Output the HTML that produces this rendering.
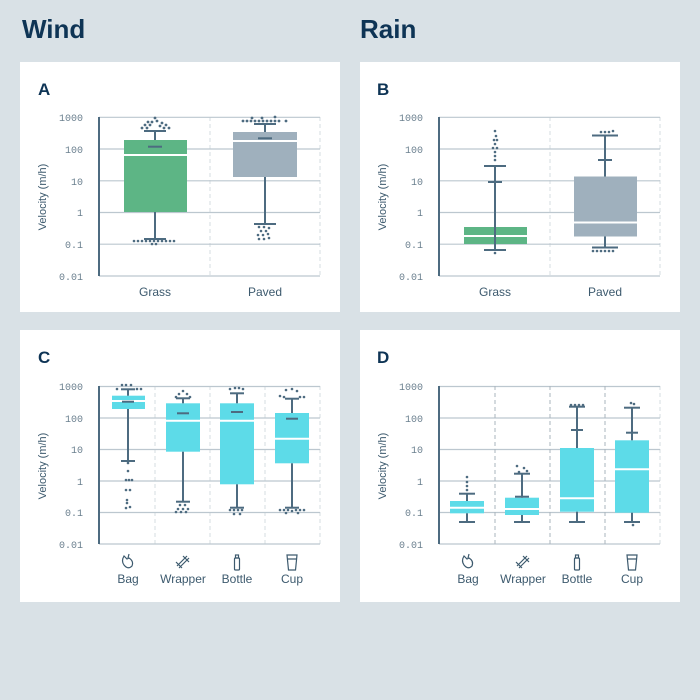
<!DOCTYPE html>
<html><head><meta charset="utf-8"><style>
html,body{margin:0;padding:0;background:#d9e1e6;}
svg{display:block;font-family:"Liberation Sans",sans-serif;}
.t{font-size:10px;fill:#6a7f8e;font-family:"Liberation Mono",monospace;text-anchor:end}
.xl{font-size:12px;fill:#3d5a6e;text-anchor:middle}
.yl{font-size:11px;fill:#3d5a6e;text-anchor:middle}
.g{stroke:#bcc7cf;stroke-width:1.2}
.d{stroke:#d5dce1;stroke-width:1;stroke-dasharray:4 3}
.dd{stroke:#aab5bd;stroke-width:1;stroke-dasharray:4 3}
.w{stroke:#4d6b80;stroke-width:2;fill:none}
.o{fill:#4d6b80}
.m{stroke:#fff;stroke-width:2}
.ic{stroke:#3d5a6e;stroke-width:1.2;fill:none}
</style></head><body>
<svg width="700" height="700" viewBox="0 0 700 700">
<rect width="700" height="700" fill="#d9e1e6"/>
<text x="22" y="38" font-size="26" font-weight="bold" fill="#0e3455">Wind</text>
<text x="360" y="38" font-size="26" font-weight="bold" fill="#0e3455">Rain</text>
<rect x="20" y="62" width="320" height="250" fill="#fff"/>
<rect x="360" y="62" width="320" height="250" fill="#fff"/>
<rect x="20" y="330" width="320" height="272" fill="#fff"/>
<rect x="360" y="330" width="320" height="272" fill="#fff"/>

<defs>
<g id="axes2">
<line class="d" x1="210" y1="117" x2="210" y2="276"/>
<line class="d" x1="320" y1="117" x2="320" y2="276"/>
<line class="g" x1="99" y1="117.3" x2="320" y2="117.3"/>
<line class="g" x1="99" y1="149" x2="320" y2="149"/>
<line class="g" x1="99" y1="180.8" x2="320" y2="180.8"/>
<line class="g" x1="99" y1="212.5" x2="320" y2="212.5"/>
<line class="g" x1="99" y1="244.2" x2="320" y2="244.2"/>
<line class="g" x1="99" y1="276" x2="320" y2="276"/>
<line class="w" x1="99" y1="117" x2="99" y2="276"/>
<text class="t" x="83" y="121">1000</text><text class="t" x="83" y="153">100</text>
<text class="t" x="83" y="185">10</text><text class="t" x="83" y="216">1</text>
<text class="t" x="83" y="248">0.1</text><text class="t" x="83" y="280">0.01</text>
<text class="yl" transform="translate(46,197) rotate(-90)">Velocity (m/h)</text>
<text class="xl" x="155" y="296">Grass</text><text class="xl" x="265" y="296">Paved</text>
</g>
<g id="axes4">
<line class="d" x1="155" y1="386" x2="155" y2="544"/>
<line class="d" x1="210" y1="386" x2="210" y2="544"/>
<line class="d" x1="265" y1="386" x2="265" y2="544"/>
<line class="d" x1="320" y1="386" x2="320" y2="544"/>
<line class="g" x1="99" y1="386.5" x2="320" y2="386.5"/>
<line class="g" x1="99" y1="418" x2="320" y2="418"/>
<line class="g" x1="99" y1="449.5" x2="320" y2="449.5"/>
<line class="g" x1="99" y1="481" x2="320" y2="481"/>
<line class="g" x1="99" y1="512.5" x2="320" y2="512.5"/>
<line class="g" x1="99" y1="544" x2="320" y2="544"/>
<line class="w" x1="99" y1="386" x2="99" y2="544"/>
<text class="t" x="83" y="390">1000</text><text class="t" x="83" y="422">100</text>
<text class="t" x="83" y="453">10</text><text class="t" x="83" y="485">1</text>
<text class="t" x="83" y="516">0.1</text><text class="t" x="83" y="548">0.01</text>
<text class="yl" transform="translate(46,466) rotate(-90)">Velocity (m/h)</text>
<text class="xl" x="128" y="583">Bag</text><text class="xl" x="183" y="583">Wrapper</text>
<text class="xl" x="237" y="583">Bottle</text><text class="xl" x="292" y="583">Cup</text>
<path class="ic" d="M124 556 q-3 5 0 9 q4 5 8 1 q2-5 -3-8 l-2 1 z M129 554 l-1 4"/>
<path class="ic" d="M177 566 l10-10 M179 568 l10-10 M176 562 l6 6 M183 556 l6 6"/>
<rect class="ic" x="234.5" y="558" width="5" height="12" rx="1"/><rect class="ic" x="235.5" y="555" width="3" height="3"/>
<path class="ic" d="M287 555 h10 l-1.5 15 h-7 z M287 559 h10"/>
</g>
</defs>

<text x="38" y="95" font-size="17" font-weight="bold" fill="#0e3455">A</text>
<text x="377" y="95" font-size="17" font-weight="bold" fill="#0e3455">B</text>
<text x="38" y="363" font-size="17" font-weight="bold" fill="#0e3455">C</text>
<text x="377" y="363" font-size="17" font-weight="bold" fill="#0e3455">D</text>

<use href="#axes2"/>
<use href="#axes2" x="340"/>
<use href="#axes4"/>
<use href="#axes4" x="340"/>
<line class="dd" x1="495" y1="386" x2="495" y2="544"/>
<line class="dd" x1="550" y1="386" x2="550" y2="544"/>
<line class="dd" x1="605" y1="386" x2="605" y2="544"/>

<!-- A -->
<rect x="124" y="140" width="63" height="72" fill="#5db585"/>
<line class="m" x1="124" y1="155" x2="187" y2="155"/>
<line class="w" x1="155" y1="131" x2="155" y2="140"/><line class="w" x1="155" y1="212" x2="155" y2="239"/>
<line class="w" x1="144" y1="131" x2="166" y2="131"/><line class="w" x1="144" y1="239" x2="166" y2="239"/>
<line class="w" x1="148" y1="146.7" x2="162" y2="146.7"/>
<g class="o"><circle cx="155" cy="118" r="1.4"/><circle cx="148" cy="122" r="1.4"/><circle cx="152" cy="122" r="1.4"/><circle cx="157" cy="121" r="1.4"/><circle cx="162" cy="123" r="1.4"/><circle cx="145" cy="125" r="1.4"/><circle cx="150" cy="125" r="1.4"/><circle cx="160" cy="126" r="1.4"/><circle cx="166" cy="125" r="1.4"/><circle cx="142" cy="128" r="1.4"/><circle cx="147" cy="128" r="1.4"/><circle cx="164" cy="128" r="1.4"/><circle cx="169" cy="128" r="1.4"/>
<circle cx="134" cy="241" r="1.3"/><circle cx="138" cy="241" r="1.3"/><circle cx="142" cy="241" r="1.3"/><circle cx="146" cy="241" r="1.3"/><circle cx="150" cy="241" r="1.3"/><circle cx="154" cy="241" r="1.3"/><circle cx="158" cy="241" r="1.3"/><circle cx="162" cy="241" r="1.3"/><circle cx="166" cy="241" r="1.3"/><circle cx="170" cy="241" r="1.3"/><circle cx="174" cy="241" r="1.3"/><circle cx="152" cy="244" r="1.3"/><circle cx="156" cy="244" r="1.3"/></g>

<rect x="233" y="132" width="64" height="45" fill="#9fb0bd"/>
<line class="m" x1="233" y1="141" x2="297" y2="141"/>
<line class="w" x1="265" y1="124" x2="265" y2="132"/><line class="w" x1="265" y1="177" x2="265" y2="224"/>
<line class="w" x1="254" y1="124" x2="276" y2="124"/><line class="w" x1="254" y1="224" x2="276" y2="224"/>
<line class="w" x1="258" y1="138.3" x2="272" y2="138.3"/>
<g class="o"><circle cx="252" cy="118" r="1.4"/><circle cx="262" cy="118" r="1.4"/><circle cx="275" cy="117" r="1.4"/><circle cx="243" cy="121" r="1.4"/><circle cx="247" cy="121" r="1.4"/><circle cx="251" cy="121" r="1.4"/><circle cx="255" cy="121" r="1.4"/><circle cx="259" cy="121" r="1.4"/><circle cx="263" cy="121" r="1.4"/><circle cx="267" cy="121" r="1.4"/><circle cx="271" cy="121" r="1.4"/><circle cx="275" cy="121" r="1.4"/><circle cx="279" cy="121" r="1.4"/><circle cx="286" cy="121" r="1.4"/>
<circle cx="259" cy="227" r="1.3"/><circle cx="264" cy="227" r="1.3"/><circle cx="269" cy="228" r="1.3"/><circle cx="261" cy="231" r="1.3"/><circle cx="266" cy="231" r="1.3"/><circle cx="258" cy="235" r="1.3"/><circle cx="263" cy="235" r="1.3"/><circle cx="268" cy="234" r="1.3"/><circle cx="259" cy="239" r="1.3"/><circle cx="264" cy="239" r="1.3"/><circle cx="269" cy="238" r="1.3"/></g>

<!-- B -->
<rect x="464" y="227" width="63" height="17" fill="#5db585"/>
<line class="m" x1="464" y1="236" x2="527" y2="236"/>
<line class="w" x1="495" y1="166" x2="495" y2="250"/>
<line class="w" x1="484" y1="166" x2="506" y2="166"/><line class="w" x1="484" y1="250" x2="506" y2="250"/>
<line class="w" x1="488" y1="182" x2="502" y2="182"/>
<g class="o"><circle cx="495" cy="131" r="1.3"/><circle cx="496" cy="136" r="1.3"/><circle cx="494" cy="140" r="1.3"/><circle cx="497" cy="140" r="1.3"/><circle cx="495" cy="144" r="1.3"/><circle cx="493" cy="148" r="1.3"/><circle cx="497" cy="148" r="1.3"/><circle cx="495" cy="152" r="1.3"/><circle cx="495" cy="156" r="1.3"/><circle cx="495" cy="160" r="1.3"/><circle cx="495" cy="253" r="1.3"/></g>
<rect x="574" y="176.5" width="63" height="60" fill="#9fb0bd"/>
<line class="m" x1="574" y1="222.5" x2="637" y2="222.5"/>
<line class="w" x1="605" y1="135.5" x2="605" y2="176.5"/><line class="w" x1="605" y1="236.5" x2="605" y2="247.5"/>
<line class="w" x1="592" y1="135.5" x2="618" y2="135.5"/><line class="w" x1="592" y1="247.5" x2="618" y2="247.5"/>
<line class="w" x1="598" y1="160" x2="612" y2="160"/>
<g class="o"><circle cx="601" cy="132" r="1.3"/><circle cx="605" cy="132" r="1.3"/><circle cx="609" cy="132" r="1.3"/><circle cx="613" cy="131" r="1.3"/><circle cx="593" cy="251" r="1.3"/><circle cx="597" cy="251" r="1.3"/><circle cx="601" cy="251" r="1.3"/><circle cx="605" cy="251" r="1.3"/><circle cx="609" cy="251" r="1.3"/><circle cx="613" cy="251" r="1.3"/></g>

<!-- C -->
<g fill="#5ddbe8">
<rect x="112" y="395.7" width="33" height="13.3"/>
<rect x="166" y="403.3" width="34" height="48.4"/>
<rect x="220" y="403.3" width="34" height="81"/>
<rect x="275" y="413" width="34" height="50.3"/></g>
<line class="m" x1="112" y1="401" x2="145" y2="401"/>
<line class="m" x1="166" y1="420.7" x2="200" y2="420.7"/>
<line class="m" x1="220" y1="420.7" x2="254" y2="420.7"/>
<line class="m" x1="275" y1="438.7" x2="309" y2="438.7"/>
<line class="w" x1="128" y1="389.3" x2="128" y2="395.7"/><line class="w" x1="128" y1="409" x2="128" y2="461"/>
<line class="w" x1="121" y1="389.3" x2="135" y2="389.3"/><line class="w" x1="121" y1="461" x2="135" y2="461"/><line class="w" x1="122" y1="401.7" x2="134" y2="401.7"/>
<line class="w" x1="183" y1="398.3" x2="183" y2="403.3"/><line class="w" x1="183" y1="451.7" x2="183" y2="501.7"/>
<line class="w" x1="176" y1="398.3" x2="190" y2="398.3"/><line class="w" x1="176" y1="501.7" x2="190" y2="501.7"/><line class="w" x1="177" y1="413.3" x2="189" y2="413.3"/>
<line class="w" x1="237" y1="393.3" x2="237" y2="403.3"/><line class="w" x1="237" y1="484.3" x2="237" y2="507.7"/>
<line class="w" x1="230" y1="393.3" x2="244" y2="393.3"/><line class="w" x1="230" y1="507.7" x2="244" y2="507.7"/><line class="w" x1="231" y1="412" x2="243" y2="412"/>
<line class="w" x1="292" y1="398.7" x2="292" y2="413"/><line class="w" x1="292" y1="463.3" x2="292" y2="507.7"/>
<line class="w" x1="285" y1="398.7" x2="299" y2="398.7"/><line class="w" x1="285" y1="507.7" x2="299" y2="507.7"/><line class="w" x1="286" y1="418.7" x2="298" y2="418.7"/>
<g class="o">
<circle cx="122" cy="385" r="1.3"/><circle cx="126" cy="385" r="1.3"/><circle cx="131" cy="385" r="1.3"/><circle cx="117" cy="389" r="1.3"/><circle cx="137" cy="389" r="1.3"/><circle cx="141" cy="389" r="1.3"/>
<circle cx="128" cy="463" r="1.3"/><circle cx="128" cy="471" r="1.3"/><circle cx="126" cy="480" r="1.3"/><circle cx="129" cy="480" r="1.3"/><circle cx="132" cy="480" r="1.3"/><circle cx="126" cy="490" r="1.3"/><circle cx="130" cy="490" r="1.3"/><circle cx="127" cy="500" r="1.3"/><circle cx="127" cy="503" r="1.3"/><circle cx="126" cy="508" r="1.3"/><circle cx="130" cy="507" r="1.3"/>
<circle cx="183" cy="391" r="1.3"/><circle cx="179" cy="394" r="1.3"/><circle cx="187" cy="394" r="1.3"/><circle cx="176" cy="397" r="1.3"/><circle cx="190" cy="397" r="1.3"/>
<circle cx="180" cy="505" r="1.3"/><circle cx="185" cy="505" r="1.3"/><circle cx="178" cy="509" r="1.3"/><circle cx="183" cy="509" r="1.3"/><circle cx="188" cy="509" r="1.3"/><circle cx="176" cy="512" r="1.3"/><circle cx="181" cy="512" r="1.3"/><circle cx="186" cy="512" r="1.3"/>
<circle cx="230" cy="389" r="1.3"/><circle cx="235" cy="388" r="1.3"/><circle cx="239" cy="388" r="1.3"/><circle cx="243" cy="389" r="1.3"/>
<circle cx="230" cy="510" r="1.3"/><circle cx="234" cy="510" r="1.3"/><circle cx="238" cy="510" r="1.3"/><circle cx="242" cy="510" r="1.3"/><circle cx="234" cy="514" r="1.3"/><circle cx="240" cy="514" r="1.3"/>
<circle cx="286" cy="390" r="1.3"/><circle cx="292" cy="389" r="1.3"/><circle cx="297" cy="391" r="1.3"/><circle cx="280" cy="396" r="1.3"/><circle cx="284" cy="397" r="1.3"/><circle cx="300" cy="397" r="1.3"/><circle cx="304" cy="397" r="1.3"/>
<circle cx="280" cy="510" r="1.3"/><circle cx="284" cy="510" r="1.3"/><circle cx="288" cy="510" r="1.3"/><circle cx="292" cy="511" r="1.3"/><circle cx="296" cy="510" r="1.3"/><circle cx="300" cy="510" r="1.3"/><circle cx="304" cy="510" r="1.3"/><circle cx="286" cy="513" r="1.3"/><circle cx="298" cy="513" r="1.3"/></g>

<!-- D -->
<g fill="#5ddbe8">
<rect x="450" y="501" width="34" height="12.3"/>
<rect x="505" y="497.7" width="34" height="17.3"/>
<rect x="560" y="448" width="34" height="63.7"/>
<rect x="615" y="440.3" width="34" height="72.4"/></g>
<line class="m" x1="450" y1="507.7" x2="484" y2="507.7"/>
<line class="m" x1="505" y1="509" x2="539" y2="509"/>
<line class="m" x1="560" y1="498.3" x2="594" y2="498.3"/>
<line class="m" x1="615" y1="469.3" x2="649" y2="469.3"/>
<line class="w" x1="467" y1="493.7" x2="467" y2="501"/><line class="w" x1="467" y1="513.3" x2="467" y2="522"/>
<line class="w" x1="459" y1="493.7" x2="475" y2="493.7"/><line class="w" x1="459" y1="522" x2="475" y2="522"/>
<line class="w" x1="522" y1="473.7" x2="522" y2="497.7"/><line class="w" x1="522" y1="515" x2="522" y2="522"/>
<line class="w" x1="514" y1="473.7" x2="530" y2="473.7"/><line class="w" x1="514" y1="522" x2="530" y2="522"/><line class="w" x1="515" y1="496.7" x2="529" y2="496.7"/>
<line class="w" x1="577" y1="406.7" x2="577" y2="448"/><line class="w" x1="577" y1="511.7" x2="577" y2="522"/>
<line class="w" x1="569" y1="406.7" x2="585" y2="406.7"/><line class="w" x1="569" y1="522" x2="585" y2="522"/><line class="w" x1="571" y1="430" x2="583" y2="430"/>
<line class="w" x1="632" y1="407.7" x2="632" y2="440.3"/><line class="w" x1="632" y1="512.7" x2="632" y2="522"/>
<line class="w" x1="624" y1="407.7" x2="640" y2="407.7"/><line class="w" x1="624" y1="522" x2="640" y2="522"/><line class="w" x1="626" y1="432.7" x2="638" y2="432.7"/>
<g class="o"><circle cx="467" cy="477" r="1.3"/><circle cx="467" cy="482" r="1.3"/><circle cx="467" cy="486" r="1.3"/><circle cx="467" cy="490" r="1.3"/>
<circle cx="517" cy="466" r="1.3"/><circle cx="524" cy="468" r="1.3"/><circle cx="519" cy="472" r="1.3"/><circle cx="527" cy="471" r="1.3"/>
<circle cx="571" cy="405" r="1.3"/><circle cx="575" cy="405" r="1.3"/><circle cx="579" cy="405" r="1.3"/><circle cx="583" cy="405" r="1.3"/>
<circle cx="631" cy="403" r="1.3"/><circle cx="634" cy="404" r="1.3"/><circle cx="633" cy="525" r="1.3"/></g>
</svg>
</body></html>
